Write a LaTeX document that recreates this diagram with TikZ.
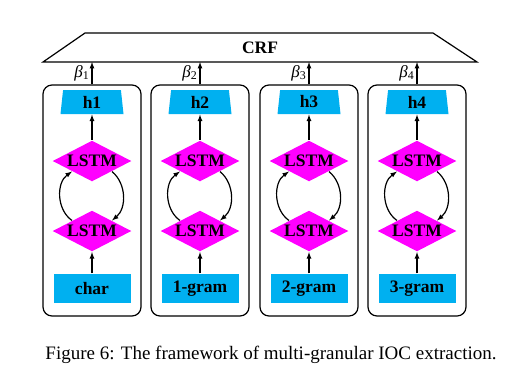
\documentclass[tikz,border=0pt]{standalone}
\usepackage{fontspec}
\setmainfont{Liberation Serif}
\usetikzlibrary{shapes.geometric}

\definecolor{cellblue}{RGB}{0,176,240}
\definecolor{cellpink}{RGB}{255,0,255}

\tikzset{
  boldtext/.style={font=\fontsize{17.5}{17.5}\selectfont\bfseries},
  lstmcell/.style={diamond, fill=cellpink, aspect=1.93, inner sep=0pt,
    minimum width=79pt, minimum height=41pt, boldtext},
  hiddencell/.style={trapezium, trapezium stretches body=true,
    trapezium left angle=78, trapezium right angle=78, fill=cellblue,
    inner sep=0pt, minimum width=63pt, minimum height=24pt, boldtext},
  inputcell/.style={rectangle, fill=cellblue, inner sep=0pt,
    minimum width=77pt, minimum height=29pt, boldtext},
  column/.style={draw, rounded corners=9pt, minimum width=98pt, minimum height=231pt},
}

\begin{document}
\begin{tikzpicture}[x=1pt,y=-1pt,line width=1.2pt,>=latex]
  \useasboundingbox (0,0) rectangle (518,384);

  % CRF layer
  \draw (85,33) -- (433,33) -- (477,62) -- (43,62) -- cycle;
  \node[boldtext] (crf) at (260,47.5) {CRF};
  \coordinate (crfbase) at (260,62);

  % One column per granularity
  \foreach \x/\i/\inp in {92/1/char, 200/2/1-gram, 309/3/2-gram, 417/4/3-gram} {
    \node[column] (col\i) at (\x,200.5) {};
    \node[hiddencell] (h\i) at (\x,102) {h\i};
    \node[lstmcell] (up\i) at (\x,161) {LSTM};
    \node[lstmcell] (lo\i) at (\x,231) {LSTM};
    \node[inputcell] (in\i) at (\x,288.5) {\inp};

    % Connections inside the column
    \draw[->] (in\i) -- (lo\i);
    \draw[->] (up\i) -- (h\i);
    \draw[->] (lo\i.north west) to[bend left=55] (up\i.south west);
    \draw[->] (up\i.south east) to[bend left=50] (lo\i.north east);

    % Weights to the CRF
    \draw[->] (col\i.north) -- (col\i.north |- crfbase)
      node[midway,left,inner sep=2pt,font=\fontsize{17}{17}\selectfont]
      {\textit{β}\textsubscript{\i}};
  }

  % Caption
  \node[font=\fontsize{19}{19}\selectfont] (caption) at (271,355)
    {Figure 6: The framework of multi-granular IOC extraction.};
\end{tikzpicture}
\end{document}
